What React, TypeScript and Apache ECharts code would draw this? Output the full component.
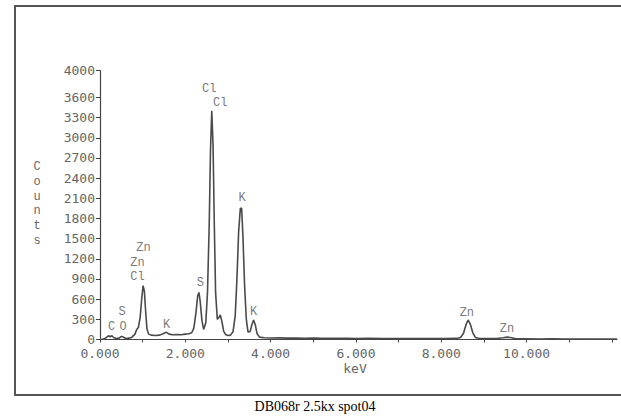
import React, { useEffect, useRef } from "react";
import * as echarts from "echarts";

// Spectrum: energy (keV) and counts
const energyKeV = [
  0.0, 0.05, 0.1, 0.15, 0.2, 0.24, 0.28, 0.32, 0.38, 0.45, 0.5, 0.54, 0.6, 0.68, 0.75,
  0.82, 0.86, 0.9, 0.94, 0.98, 1.01, 1.04, 1.07, 1.1, 1.14, 1.2, 1.3, 1.4, 1.48, 1.55,
  1.62, 1.7, 1.8, 1.9, 2.0, 2.08, 2.15, 2.2, 2.25, 2.29, 2.32, 2.35, 2.39, 2.43, 2.48,
  2.52, 2.56, 2.59, 2.62, 2.65, 2.68, 2.71, 2.75, 2.79, 2.82, 2.86, 2.9, 2.95, 3.0,
  3.06, 3.12, 3.17, 3.21, 3.25, 3.29, 3.32, 3.35, 3.39, 3.43, 3.47, 3.52, 3.56, 3.6,
  3.64, 3.68, 3.74, 3.85, 4.0, 4.2, 4.4, 4.6, 4.8, 5.0, 5.2, 5.4, 5.6, 5.8, 6.0, 6.3,
  6.6, 6.9, 7.2, 7.5, 7.8, 8.1, 8.35, 8.45, 8.52, 8.58, 8.63, 8.68, 8.74, 8.8, 8.9,
  9.1, 9.3, 9.45, 9.55, 9.62, 9.75, 10.0, 10.3, 10.6, 10.9, 11.2, 11.5, 11.8, 12.12,
];
const counts = [
  0, 2, 10, 30, 55, 40, 55, 30, 15, 20, 45, 40, 15, 20, 35,
  80, 150, 180, 320, 620, 800, 720, 420, 160, 80, 65, 60, 65, 85, 110,
  80, 70, 75, 70, 80, 85, 100, 170, 400, 650, 700, 560, 280, 150, 250,
  700, 1700, 2800, 3400, 2900, 1700, 700, 300, 330, 365, 260, 120, 70, 60,
  65, 120, 350, 900, 1600, 1950, 1950, 1550, 800, 300, 110, 120, 220, 290,
  220, 90, 35, 25, 22, 24, 20, 22, 18, 20, 17, 18, 16, 17, 15, 16,
  14, 15, 13, 14, 13, 15, 16, 30, 90, 220, 290, 230, 100, 30, 15,
  14, 15, 25, 35, 30, 12, 10, 8, 9, 7, 8, 6, 6, 5,
];

// Peak annotations: element, keV, counts (position of the label)
const peakNames = ["C", "O", "S", "Cl", "Zn", "Zn", "K", "S", "Cl", "Cl", "K", "K", "Zn", "Zn"];
const peakKeV = [0.27, 0.54, 0.52, 0.88, 0.88, 1.02, 1.56, 2.35, 2.56, 2.82, 3.33, 3.6, 8.6, 9.54];
const peakCounts = [185, 185, 407, 926, 1133, 1356, 215, 837, 3726, 3519, 2111, 407, 393, 156];

const yTicks = [0, 300, 600, 900, 1200, 1500, 1800, 2100, 2400, 2700, 3000, 3300, 3600, 4000];
const xLabelTicks = [0, 2, 4, 6, 8, 10];
const xMinorTicks = [0, 1, 2, 3, 4, 5, 6, 7, 8, 9, 10, 11, 12];

const title = "DB068r 2.5kx spot04";
const xName = "keV";
const yName = "Counts";

export default function App() {
  const ref = useRef<HTMLDivElement>(null);
  useEffect(() => {
    document.body.style.margin = "0";
    const chart = echarts.init(ref.current!, null, { renderer: "svg" });
    const mono = "DejaVu Sans Mono";
    chart.setOption({
      animation: false,
      backgroundColor: "#ffffff",
      grid: { left: 100, top: 70.5, right: 4, bottom: 79.5, containLabel: false },
      xAxis: {
        type: "value",
        min: 0,
        max: 12.12,
        interval: 1,
        splitLine: { show: false },
        axisLine: { show: true, onZero: false, lineStyle: { color: "#444", width: 1.2 } },
        axisTick: { show: true, length: 3, customValues: xMinorTicks, lineStyle: { color: "#444" } },
        axisLabel: {
          customValues: xLabelTicks,
          formatter: (v: number) => v.toFixed(3),
          color: "#666",
          fontFamily: mono,
          fontSize: 13,
          margin: 7.5,
        },
      },
      yAxis: {
        type: "value",
        min: 0,
        max: 4000,
        interval: 100,
        splitLine: { show: false },
        axisLine: { show: true, lineStyle: { color: "#444", width: 1.2 } },
        axisTick: { show: true, length: 4, customValues: yTicks, lineStyle: { color: "#444" } },
        axisLabel: {
          customValues: yTicks,
          formatter: (v: number) => String(v),
          color: "#666",
          fontFamily: mono,
          fontSize: 13,
          margin: 5,
        },
      },
      series: [
        {
          type: "line",
          data: energyKeV.map((e, i) => [e, counts[i]]),
          showSymbol: false,
          symbol: "none",
          lineStyle: { color: "#4a4a4a", width: 1.6 },
          silent: true,
        },
        {
          type: "scatter",
          symbolSize: 0,
          silent: true,
          itemStyle: { color: "#555" },
          data: peakNames.map((n, i) => [peakKeV[i], peakCounts[i], n]),
          label: {
            show: true,
            position: "inside",
            formatter: (p: any) => p.data[2],
            color: "#555",
            textBorderWidth: 0,
            fontFamily: "Liberation Mono",
            fontSize: 12,
          },
        },
      ],
      graphic: [
        {
          type: "rect",
          shape: { x: 15, y: 6, width: 640, height: 389 },
          style: { fill: "none", stroke: "#555", lineWidth: 2 },
          silent: true,
        },
        {
          type: "text",
          x: 355,
          y: 368,
          style: { text: xName, fill: "#666", font: `13px ${mono}`, align: "center", verticalAlign: "middle" },
        },
        {
          type: "text",
          x: 37,
          y: 204,
          style: {
            text: yName.split("").join("\n"),
            fill: "#666",
            font: `12px "Liberation Mono"`,
            lineHeight: 14.8,
            align: "center",
            verticalAlign: "middle",
          },
        },
        {
          type: "text",
          x: 315,
          y: 406,
          style: { text: title, fill: "#000", font: `14px "Liberation Serif"`, align: "center", verticalAlign: "middle" },
        },
      ],
    });
    return () => chart.dispose();
  }, []);
  return <div ref={ref} style={{ width: 621, height: 419 }} />;
}
